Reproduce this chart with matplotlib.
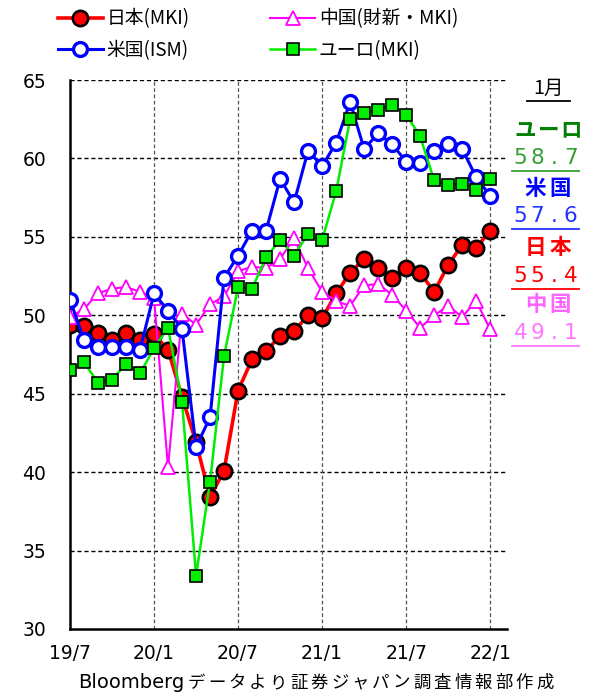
import numpy as np
import matplotlib
matplotlib.use("Agg")
import matplotlib.pyplot as plt

plt.rcParams['font.family'] = ['Noto Sans CJK JP', 'DejaVu Sans']

# 2019/7 .. 2022/1 monthly
months = np.arange(31)
xlabels = ["19/7", "20/1", "20/7", "21/1", "21/7", "22/1"]

japan = [49.4, 49.3, 48.9, 48.4, 48.9, 48.4, 48.8, 47.8, 44.8, 41.9, 38.4, 40.1,
         45.2, 47.2, 47.7, 48.7, 49.0, 50.0, 49.8, 51.4, 52.7, 53.6, 53.0, 52.4,
         53.0, 52.7, 51.5, 53.2, 54.5, 54.3, 55.4]
china = [49.9, 50.4, 51.4, 51.7, 51.8, 51.5, 51.1, 40.3, 50.1, 49.4, 50.7, 51.2,
         52.8, 53.1, 53.0, 53.6, 54.9, 53.0, 51.5, 50.9, 50.6, 51.9, 52.0, 51.3,
         50.3, 49.2, 50.0, 50.6, 49.9, 50.9, 49.1]
usa = [51.0, 48.4, 48.0, 48.0, 48.0, 47.8, 51.4, 50.3, 49.1, 41.6, 43.5, 52.4,
       53.8, 55.4, 55.4, 58.7, 57.2, 60.5, 59.5, 61.0, 63.6, 60.6, 61.6, 60.9,
       59.8, 59.7, 60.5, 60.9, 60.6, 58.8, 57.6]
euro = [46.5, 47.0, 45.7, 45.9, 46.9, 46.3, 47.9, 49.2, 44.5, 33.4, 39.4, 47.4,
        51.8, 51.7, 53.7, 54.8, 53.8, 55.2, 54.8, 57.9, 62.5, 62.9, 63.1, 63.4,
        62.8, 61.4, 58.6, 58.3, 58.4, 58.0, 58.7]

W, H = 598, 695
fig = plt.figure(figsize=(W/100, H/100), dpi=100)
ax = fig.add_axes([70/W, 1-629/H, 437/W, 549/H])

l1, = ax.plot(months, japan, color='red', lw=2.6, marker='o', ms=11,
              mfc='red', mec='black', mew=1.9, zorder=3)
l2, = ax.plot(months, china, color='#ff00ff', lw=1.5, marker='^', ms=10.5,
              mfc='white', mec='#ff00ff', mew=1.3, zorder=4)
l3, = ax.plot(months, usa, color='blue', lw=2.2, marker='o', ms=10,
              mfc='white', mec='blue', mew=2.4, zorder=5)
l4, = ax.plot(months, euro, color='#00ee00', lw=1.8, marker='s', ms=8.5,
              mfc='#00ee00', mec='black', mew=1.2, zorder=6)

ax.set_xlim(0, 31.2)
ax.set_ylim(30, 65)
ax.set_yticks(range(30, 66, 5))
ax.set_xticks(range(0, 31, 6))
ax.set_xticklabels(xlabels)
ax.tick_params(length=0)
ax.tick_params(axis='y', pad=17)
ax.tick_params(axis='x', pad=11)
for t in ax.get_xticklabels() + ax.get_yticklabels():
    t.set_fontfamily('DejaVu Sans')
    t.set_fontsize(13.5)
for y in range(35, 66, 5):
    ax.axhline(y, color='black', lw=1, ls=(0, (3, 2)), zorder=1)
for x in range(6, 31, 6):
    ax.axvline(x, color='#555555', lw=0.9, ls=(0, (3, 2)), zorder=1)
ax.spines['top'].set_visible(False)
ax.spines['right'].set_visible(False)
ax.spines['left'].set_linewidth(1.8)
ax.spines['bottom'].set_linewidth(1.8)

fig.legend([l1, l3, l2, l4],
           ["日本(MKI)", "米国(ISM)", "中国(財新・MKI)", "ユーロ(MKI)"],
           ncol=2, loc='upper left', bbox_to_anchor=(0.068, 1.012), frameon=False,
           fontsize=13.5, handlelength=2.4, columnspacing=4.3, labelspacing=0.55,
           handletextpad=0.2)


def spaced(x0, y, s, adv, **kw):
    # one glyph per position, like the fixed-pitch font of the original
    x = x0
    for ch in s:
        fig.text((x + adv/2)/W, 1-y/H, ch, ha='center', va='center', **kw)
        x += adv


def uline(x0, x1, y, c):
    fig.add_artist(plt.Line2D([x0/W, x1/W], [1-y/H]*2, color=c, lw=1.3))


fig.text(548/W, 1-88/H, "1月", ha='center', va='center', fontsize=14)
uline(527, 570, 101, 'black')

labels = [("ユーロ", "58.7", '#008000', '#33a033', 130),
          ("米国", "57.6", 'blue', '#2233ff', 188),
          ("日本", "55.4", 'red', 'red', 248),
          ("中国", "49.1", '#ff66ff', '#ff77ff', 305)]
for name, val, c1, c2, yy in labels:
    adv = 23 if len(name) == 3 else 25
    spaced(548 - adv*len(name)/2, yy, name, adv, fontsize=15.5,
           fontweight='bold', color=c1)
    spaced(512, yy + 28, val, 16.8, fontsize=15.5, color=c2,
           fontfamily='DejaVu Sans')
    uline(512, 579, yy + 41, c2)

fig.text(78/W, 1-683/H, "Bloomberg", ha='left', va='center', fontsize=14,
         fontfamily='DejaVu Sans')
spaced(186, 683, "データより証券ジャパン調査情報部作成", 20.5, fontsize=12.5)

fig.savefig("out.png", dpi=100)
